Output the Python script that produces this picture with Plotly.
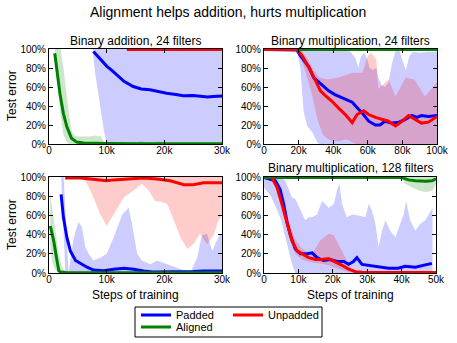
import plotly.graph_objects as go

# x in thousands of training steps, y in percent test error
# line = median curve, hx/hi and lx/lo = upper and lower edge of the spread band

# ---- Binary addition, 24 filters
add24_pad_x = [7.7, 8.5, 9.2, 10, 11, 11.7, 13, 14.6, 16, 17.5, 19, 20.4, 22, 23.3, 25, 26.2, 27.5, 28.5, 30]
add24_pad_y = [97.5, 92, 88, 82, 77, 73, 66, 60.5, 58, 57, 55, 53.5, 52, 50.7, 51, 50.5, 49.5, 50, 50.5]
add24_pad_hx = [7.6, 30]
add24_pad_hi = [100, 100]
add24_pad_lx = [7.6, 8, 8.5, 9, 9.5, 10, 30]
add24_pad_lo = [97, 75, 55, 35, 15, 0, 0]

add24_aln_x = [1.0, 1.4, 1.9, 2.5, 3.1, 3.9, 4.8, 6, 8, 10, 15, 20, 25, 30]
add24_aln_y = [95.5, 75, 53, 32, 18, 6, 2, 1, 0.5, 0.5, 0.3, 0.3, 0.2, 0.2]
add24_aln_hx = [1.0, 2, 2.5, 3, 3.5, 4, 4.5, 5, 7, 8, 9, 9.5, 10, 14, 15, 16, 17, 18, 19, 20, 21, 30]
add24_aln_hi = [100, 100, 80, 55, 30, 12, 9, 8, 8, 9, 8, 2, 0.5, 0.5, 2, 3, 1, 1, 3, 2, 0.3, 0.3]
add24_aln_lx = [1.0, 1.5, 2, 2.5, 3, 3.5, 30]
add24_aln_lo = [85, 60, 30, 10, 3, 0, 0]

add24_unp_x = [13.5, 20, 30]
add24_unp_y = [99.5, 99.5, 99.5]
add24_unp_hx = [13.5, 30]
add24_unp_hi = [100, 100]
add24_unp_lx = [13.5, 30]
add24_unp_lo = [99, 99]

# ---- Binary multiplication, 24 filters
mul24_pad_x = [0, 18, 19, 21, 23, 26, 28.7, 31.6, 34.5, 37.4, 41, 45, 48, 51, 54, 56.6, 60.5, 64.4, 67, 70,
               74, 78, 81.7, 85.5, 88.4, 91, 95, 99, 100]
mul24_pad_y = [99.5, 99.5, 99, 93, 88, 81, 70, 65, 60, 56, 52, 49, 47, 44, 38, 33, 24, 20, 20, 24,
               22, 23, 26, 30, 28, 30, 29, 30, 30]
mul24_pad_hx = [0, 38, 40, 45, 50, 53, 54.5, 56, 58, 60, 61, 63, 65, 66, 68, 70, 72, 74, 76, 78, 80, 82, 84, 86,
                90, 95, 100]
mul24_pad_hi = [100, 100, 98, 100, 97, 90, 80, 92, 96, 88, 80, 78, 80, 70, 62, 60, 65, 85, 98, 100, 88, 78, 92, 97,
                96, 97, 97]
mul24_pad_lx = [0, 19, 21, 23, 25, 28, 31, 32, 100]
mul24_pad_lo = [100, 100, 80, 33, 19, 12, 1, 0, 0]

mul24_aln_x = [0, 25, 50, 75, 100]
mul24_aln_y = [99.5, 99.5, 99.5, 99.5, 99.5]
mul24_aln_hx = [0, 100]
mul24_aln_hi = [100, 100]
mul24_aln_lx = [0, 100]
mul24_aln_lo = [99, 99]

mul24_unp_x = [0, 18, 19, 22, 25.8, 29.7, 32.6, 35.5, 39.3, 43, 47, 51, 53.8, 57.6, 60.5, 64.4, 68, 72, 76, 79.8,
               83.6, 87.5, 91, 95, 99, 100]
mul24_unp_y = [99.5, 99.5, 99.5, 93, 81, 67, 56, 51, 45, 38, 31, 22.5, 31, 35, 31, 28, 26, 24, 19, 24,
               30, 26, 22, 23, 28, 29]
mul24_unp_hx = [0, 20, 22, 25, 28, 31, 32, 34, 37, 40, 43, 48, 51, 53, 57, 60, 62, 65, 66, 72, 76, 82, 87, 93, 100]
mul24_unp_hi = [100, 100, 98, 90, 80, 72, 70, 69, 68, 69, 70, 73, 75, 75, 75, 93, 96, 89, 58, 68, 50, 70, 68, 50, 65]
mul24_unp_lx = [0, 19, 22, 25, 28, 31, 34, 37, 40, 43, 48, 51, 53, 100]
mul24_unp_lo = [100, 100, 88, 70, 50, 25, 10, 5, 3, 3, 5, 2, 0, 0]

# ---- Binary addition, 128 filters (untitled panel)
add128_pad_x = [2.1, 2.5, 3.1, 3.7, 4.6, 5.4, 6.6, 7.7, 9.5, 11.2, 13, 14.7, 16.4, 18, 22.8, 25, 26.8, 29.7, 30]
add128_pad_y = [82, 58, 37, 23, 13, 10, 6, 3, 2.4, 3.8, 4.9, 4, 2, 1, 1, 1.5, 2, 2, 2]
add128_pad_hx = [2.1, 2.55, 3.4, 4.3, 5.1, 5.7, 6.3, 6.9, 7.7, 8.9, 10, 11.2, 12.7, 13.8, 14.4, 15.3, 16.1, 17.6,
                 18.7, 20.5, 22.8, 24.5, 25.7, 26.5, 27.4, 28.3, 28.8, 29.7, 30]
add128_pad_hi = [100, 100, 0.5, 37, 53, 48, 27, 20, 13, 16, 20, 37, 61, 68, 51, 20, 13, 9,
                 13, 9, 4, 0.5, 16, 39, 41, 23, 30, 41, 40]
add128_pad_lx = [2.1, 2.85, 30]
add128_pad_lo = [100, 0, 0]

add128_aln_x = [0.23, 0.8, 1.3, 1.7, 2.0, 3, 5, 10, 15, 20, 25, 30]
add128_aln_y = [49, 34, 16, 2.4, 1, 0.5, 0.3, 0.2, 0.2, 0.2, 0.2, 0.2]
add128_aln_hx = [0.2, 0.6, 1.1, 1.7, 2.25, 2.8, 30]
add128_aln_hi = [82, 65, 41, 20, 6, 0.5, 0.3]
add128_aln_lx = [0.2, 0.6, 1.1, 1.7, 30]
add128_aln_lo = [30, 10, 3, 0, 0]

add128_unp_x = [2.8, 5.4, 8, 10, 11.2, 14, 16.4, 18.7, 21, 23.4, 25, 26.8, 28.6, 30]
add128_unp_y = [99, 99, 97.5, 96, 97, 98, 99, 98, 96, 92, 92, 94, 94, 94]
add128_unp_hx = [2.8, 30]
add128_unp_hi = [100, 100]
add128_unp_lx = [2.8, 6, 6.6, 7.7, 8.9, 10, 11.2, 13, 14.7, 16.1, 17.3, 18.4, 19.6, 20.5, 21.9, 22.8, 24, 25, 26.2,
                 27.4, 28.6, 29.4, 30]
add128_unp_lo = [99, 98, 93, 79, 61, 49, 61, 79, 86, 93, 86, 75, 74, 72, 51, 37, 25, 30, 41,
                 30, 40, 55, 60]

# ---- Binary multiplication, 128 filters
mul128_pad_x = [0, 3.3, 4.7, 5.7, 6.7, 7.7, 9.1, 10.6, 12.5, 14, 15.4, 17.3, 19.3, 21.2, 23.2, 24.6, 26, 27, 28.5,
                30.4, 33.3, 36.2, 39, 41, 44, 46.9, 48.8]
mul128_pad_y = [99.5, 96, 87, 72, 53, 39, 25, 20, 20, 21, 16, 13, 14, 12, 12, 9, 12, 16, 9,
                8, 6, 5, 5, 7, 6, 8, 10]
mul128_pad_hx = [0, 2, 4, 5, 6.2, 7.2, 8.1, 9.1, 10.6, 12, 13, 14, 15.4, 16.9, 17.8, 18.8, 20.3, 21.2, 21.9, 22.7,
                 24.1, 25.6, 27.5, 29.5, 30.4, 31.4, 32.4, 33.3, 34.3, 35.3, 36.7, 38.2, 39.6, 40.6, 41.3, 42.5,
                 44, 45.4, 46.9, 48.4, 49]
mul128_pad_hi = [100, 100, 100, 100, 96, 88, 79, 77, 65, 55, 58, 58, 61, 75, 72, 68, 72, 86, 93, 72,
                 58, 61, 60, 58, 72, 65, 51, 27, 44, 55, 44, 37, 51, 61, 75, 55,
                 44, 51, 55, 65, 68]
mul128_pad_lx = [0, 2, 4, 5, 6.2, 7.2, 8.1, 9.1, 49]
mul128_pad_lo = [89, 80, 64, 55, 38, 24, 10, 0, 0]

mul128_aln_x = [0, 10, 20, 30, 40, 42, 44, 47, 48.8, 50]
mul128_aln_y = [99.5, 99.5, 99.5, 99.5, 99.5, 97, 96, 95.5, 96, 98]
mul128_aln_hx = [0, 50]
mul128_aln_hi = [100, 100]
mul128_aln_lx = [0, 40, 41, 43, 45, 47, 49, 50]
mul128_aln_lo = [99, 99, 93, 89, 86, 84, 86, 93]

mul128_unp_x = [2.3, 3.8, 5.2, 6.7, 8.1, 9.6, 11, 13, 15, 16.9, 18.8, 20.7, 22.7, 24.6, 26.6, 28.5, 35, 50]
mul128_unp_y = [99.5, 89, 72, 51, 34, 23, 20, 16, 14, 14, 15, 12, 8, 4, 1.4, 0.7, 0.5, 0.5]
mul128_unp_hx = [2.3, 3.3, 5.2, 7.2, 9.1, 11, 13, 14, 16.4, 18.8, 20.3, 22.7, 24.6, 26.6, 28, 50]
mul128_unp_hi = [100, 100, 80, 55, 35, 26, 20, 20, 34, 41, 39, 23, 8, 2, 1, 1]
mul128_unp_lx = [2.3, 3.3, 5.2, 7.2, 9.1, 11, 13, 14, 16.4, 18.8, 20.3, 22.7, 24.6, 26.6, 50]
mul128_unp_lo = [100, 92, 65, 40, 20, 14, 12, 11, 10, 8, 6, 3, 1, 0, 0]

# tick labels
y_tickvals = [0, 20, 40, 60, 80, 100]
y_ticktext = ["0%", "20%", "40%", "60%", "80%", "100%"]
x30_tickvals = [0, 10, 20, 30]
x30_ticktext = ["0", "10k", "20k", "30k"]
x100_tickvals = [0, 20, 40, 60, 80, 100]
x100_ticktext = ["0", "20k", "40k", "60k", "80k", "100k"]
x50_tickvals = [0, 10, 20, 30, 40, 50]
x50_ticktext = ["0", "10k", "20k", "30k", "40k", "50k"]

W, H = 457, 343
FONT = "Liberation Sans, Arial, sans-serif"

colors = {"pad": "#0000ff", "aln": "#008000", "unp": "#ff0000"}
bands = {"pad": "rgba(0,0,255,0.2)", "aln": "rgba(0,128,0,0.2)", "unp": "rgba(255,0,0,0.2)"}
names = {"pad": "Padded", "aln": "Aligned", "unp": "Unpadded"}
# one small legend per entry so the two-column box of the original can be rebuilt
legend_of = {"pad": "legend", "aln": "legend3", "unp": "legend2"}

g = globals()
panels = [
    # prefix, axis suffix, x range, tickvals, ticktext, domain in px (x0, x1, ytop, ybottom)
    ("add24", "", 30, x30_tickvals, x30_ticktext, (49, 222, 49, 144)),
    ("mul24", "2", 100, x100_tickvals, x100_ticktext, (264, 437, 49, 144)),
    ("add128", "3", 30, x30_tickvals, x30_ticktext, (49, 222, 177, 273)),
    ("mul128", "4", 50, x50_tickvals, x50_ticktext, (264, 436, 177, 273)),
]

fig = go.Figure()

for pi, (pre, ax, xmax, tv, tt, dom) in enumerate(panels):
    # shaded spread bands first
    for s in ["pad", "aln", "unp"]:
        hx, hi = g[pre + "_" + s + "_hx"], g[pre + "_" + s + "_hi"]
        lx, lo = g[pre + "_" + s + "_lx"], g[pre + "_" + s + "_lo"]
        fig.add_trace(go.Scatter(
            x=hx + lx[::-1], y=hi + lo[::-1],
            fill="toself", fillcolor=bands[s], line=dict(width=0),
            mode="lines", showlegend=False, hoverinfo="skip",
            xaxis="x" + ax, yaxis="y" + ax,
        ))
    # then the median lines
    for s in ["pad", "aln", "unp"]:
        fig.add_trace(go.Scatter(
            x=g[pre + "_" + s + "_x"], y=g[pre + "_" + s + "_y"],
            mode="lines", line=dict(color=colors[s], width=3),
            name=names[s], showlegend=(pi == 0), legend=legend_of[s],
            xaxis="x" + ax, yaxis="y" + ax,
        ))

    x0, x1, yt, yb = dom
    axis_style = dict(
        showline=True, linecolor="black", linewidth=1, mirror="allticks",
        ticks="inside", ticklen=4, tickwidth=1, tickcolor="black",
        showgrid=False, zeroline=False, automargin=False,
        tickfont=dict(family=FONT, size=10, color="black"),
    )
    fig.layout["xaxis" + ax] = dict(
        domain=[x0 / W, x1 / W], range=[0, xmax], anchor="y" + ax,
        tickvals=tv, ticktext=tt, ticklabelstandoff=-3, **axis_style,
    )
    fig.layout["yaxis" + ax] = dict(
        domain=[1 - yb / H, 1 - yt / H], range=[0, 100], anchor="x" + ax,
        tickvals=y_tickvals, ticktext=y_ticktext, **axis_style,
    )

ann = []


def label(text, x, y, size, angle=0):
    ann.append(dict(text=text, x=x / W, y=1 - y / H, xref="paper", yref="paper",
                    showarrow=False, textangle=angle, xanchor="center", yanchor="middle",
                    font=dict(family=FONT, size=size, color="black")))


label("Alignment helps addition, hurts multiplication", 228, 12, 14)
label("Binary addition, 24 filters", 135.5, 41, 12)
label("Binary multiplication, 24 filters", 350.5, 41, 12)
label("Binary multiplication, 128 filters", 350, 168, 12)
label("Test error", 12, 96, 12, -90)
label("Test error", 12, 225, 12, -90)
label("Steps of training", 135.5, 295, 12)
label("Steps of training", 350, 295, 12)

legend_style = dict(
    yanchor="middle", xanchor="left", orientation="v",
    bgcolor="rgba(0,0,0,0)", borderwidth=0, itemwidth=30,
    font=dict(family=FONT, size=11, color="black"), tracegroupgap=0,
)

fig.update_layout(
    width=W, height=H,
    margin=dict(l=0, r=0, t=0, b=0, autoexpand=False),
    paper_bgcolor="white", plot_bgcolor="white",
    annotations=ann,
    legend=dict(x=136 / W, y=1 - 315 / H, **legend_style),
    legend3=dict(x=136 / W, y=1 - 327 / H, **legend_style),
    legend2=dict(x=228 / W, y=1 - 315 / H, **legend_style),
    shapes=[dict(type="rect", xref="paper", yref="paper",
                 x0=135 / W, x1=322 / W, y0=1 - 337 / H, y1=1 - 307 / H,
                 line=dict(color="black", width=1))],
)

# the page's default 8px body margin would shift the fixed-size figure
fig.write_html("out.html", config={"displayModeBar": False},
               post_script="document.body.style.margin = '0';")
